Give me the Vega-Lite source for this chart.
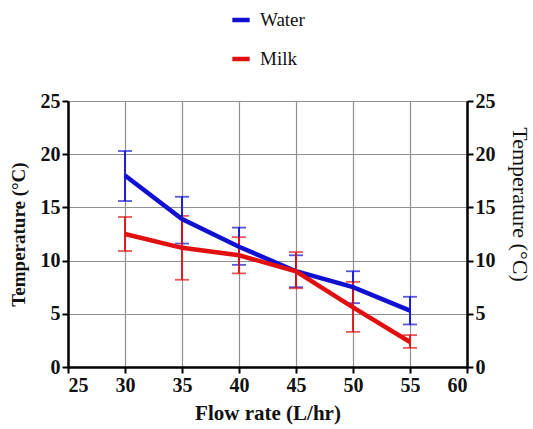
{
  "$schema": "https://vega.github.io/schema/vega-lite/v6.json",
  "width": 399,
  "height": 266,
  "autosize": "none",
  "padding": {"left": 68, "top": 101, "right": 66, "bottom": 62},
  "background": "white",
  "config": {
    "font": "Liberation Serif",
    "view": {"stroke": null},
    "axis": {
      "labelFont": "Liberation Serif",
      "titleFont": "Liberation Serif",
      "labelFontWeight": "bold",
      "labelFontSize": 20,
      "labelColor": "#111",
      "titleColor": "#111",
      "titleFontSize": 19,
      "titleFontWeight": "bold",
      "domainColor": "black",
      "domainWidth": 2.5,
      "tickColor": "black",
      "tickWidth": 2,
      "tickSize": 6,
      "gridColor": "#909090",
      "gridWidth": 1.2,
      "gridOpacity": 1
    }
  },
  "data": {
    "values": [
      {"flow": 30, "series": "Water", "temp": 18.0, "lo": 15.6, "hi": 20.3},
      {"flow": 35, "series": "Water", "temp": 13.9, "lo": 11.6, "hi": 16.0},
      {"flow": 40, "series": "Water", "temp": 11.3, "lo": 9.6, "hi": 13.1},
      {"flow": 45, "series": "Water", "temp": 9.0, "lo": 7.5, "hi": 10.5},
      {"flow": 50, "series": "Water", "temp": 7.5, "lo": 6.0, "hi": 9.0},
      {"flow": 55, "series": "Water", "temp": 5.3, "lo": 4.0, "hi": 6.6},
      {"flow": 30, "series": "Milk", "temp": 12.5, "lo": 10.9, "hi": 14.1},
      {"flow": 35, "series": "Milk", "temp": 11.2, "lo": 8.2, "hi": 14.2},
      {"flow": 40, "series": "Milk", "temp": 10.5, "lo": 8.8, "hi": 12.2},
      {"flow": 45, "series": "Milk", "temp": 9.0, "lo": 7.4, "hi": 10.8},
      {"flow": 50, "series": "Milk", "temp": 5.6, "lo": 3.3, "hi": 8.0},
      {"flow": 55, "series": "Milk", "temp": 2.35, "lo": 1.8, "hi": 3.0}
    ]
  },
  "encoding": {
    "x": {"field": "flow", "type": "quantitative",
      "scale": {"domain": [25, 60], "nice": false, "zero": false},
      "axis": {"values": [25, 30, 35, 40, 45, 50, 55, 60], "title": "Flow rate (L/hr)", "titleFontSize": 21, "titlePadding": 7, "labelPadding": 2}},
    "color": {"field": "series", "type": "nominal",
      "scale": {"domain": ["Water", "Milk"], "range": ["#1010d0", "#e01010"]},
      "legend": {"orient": "none", "legendX": 162, "legendY": -92, "title": null,
        "symbolType": "stroke", "symbolStrokeWidth": 4.5, "symbolSize": 300, "symbolOpacity": 1,
        "labelFont": "Liberation Serif", "labelFontSize": 19, "labelColor": "#111",
        "rowPadding": 18, "labelOffset": 8}}
  },
  "layer": [
    {
      "mark": {"type": "errorbar", "ticks": {"size": 14, "thickness": 1.8}, "rule": {"strokeWidth": 1.8}},
      "encoding": {
        "y": {"field": "lo", "type": "quantitative", "scale": {"domain": [0, 25], "nice": false},
          "axis": {"values": [0, 5, 10, 15, 20, 25], "grid": true, "domain": false, "ticks": false, "labels": false, "title": null}},
        "y2": {"field": "hi"}
      }
    },
    {
      "mark": {"type": "line", "strokeWidth": 4.5},
      "encoding": {
        "y": {"field": "temp", "type": "quantitative",
          "scale": {"domain": [0, 25], "nice": false},
          "axis": {"orient": "left", "values": [0, 5, 10, 15, 20, 25], "grid": false, "title": "Temperature (°C)", "titlePadding": 12, "labelPadding": 2}}
      }
    },
    {
      "mark": {"type": "line", "opacity": 0},
      "encoding": {
        "y": {"field": "temp", "type": "quantitative",
          "scale": {"domain": [0, 25], "nice": false},
          "axis": {"orient": "right", "values": [0, 5, 10, 15, 20, 25], "grid": false,
            "title": "Temperature (°C)", "titleFontWeight": "normal", "titleFontSize": 22,
            "titleY": 103, "titlePadding": 12, "labelPadding": 2}}
      }
    }
  ],
  "resolve": {"axis": {"y": "independent"}}
}
